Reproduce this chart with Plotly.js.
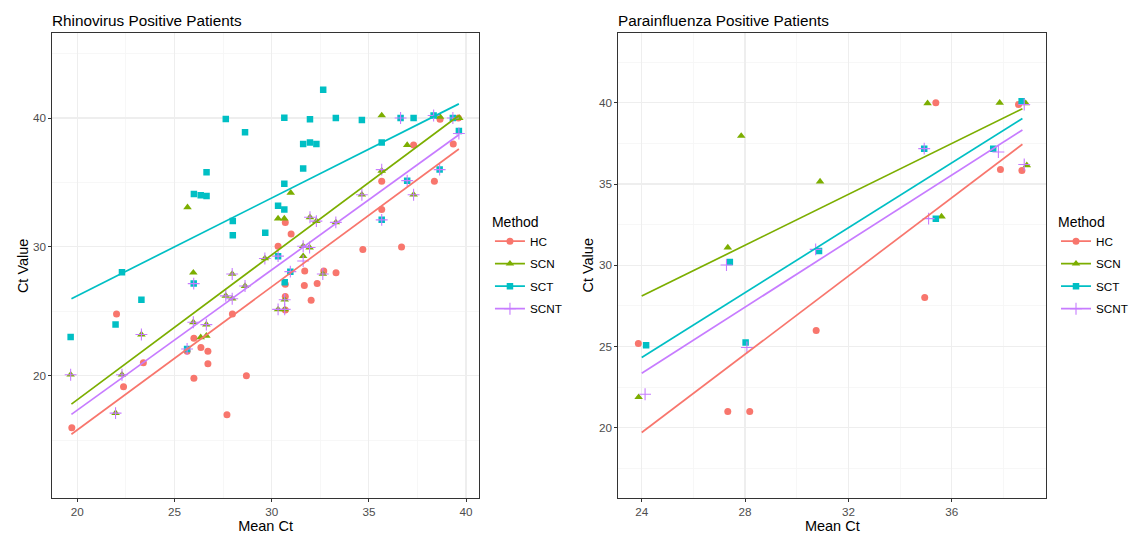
<!DOCTYPE html>
<html>
<head>
<meta charset="utf-8">
<script src="https://cdn.plot.ly/plotly-3.0.1.min.js"></script>
<style>html,body{margin:0;padding:0;background:#fff;}#chart{width:1133px;height:536px;}</style>
</head>
<body>
<div id="chart"></div>
<script>
// ---------- DATA ----------
const methods = ["HC", "SCN", "SCT", "SCNT"];
const panelTitles = ["Rhinovirus Positive Patients", "Parainfluenza Positive Patients"];
const xTitle = "Mean Ct";
const yTitle = "Ct Value";

// Rhinovirus panel
const rhinoHC_x = [19.72,22.02,22.38,23.4,25.65,26.0,26.36,26.72,26.72,26.0,27.7,27.98,28.7,30.33,30.7,31.0,31.7,32.68,33.31,30.7,31.68,32.34,30.7,32.03,30.7,34.69,36.68,35.66,35.66,37.3,38.37,38.66,39.34,39.6];
const rhinoHC_y = [15.97,24.8,19.14,21.0,21.9,22.9,22.2,21.9,20.94,19.8,16.98,24.8,20.0,30.05,31.9,31.0,28.13,28.13,28.0,27.1,27.0,27.15,26.15,25.85,25.1,29.8,30.0,35.1,32.9,37.9,35.1,39.9,37.98,40.0];

const rhinoSCN_x = [19.66,21.97,22.3,23.3,25.67,25.97,25.97,26.35,26.64,26.64,27.64,27.97,27.97,28.63,29.65,30.33,30.65,30.98,31.62,31.62,31.95,31.97,32.3,32.63,33.3,30.33,30.67,30.67,34.64,35.66,35.66,36.97,37.3,38.33,38.66,39.65];
const rhinoSCN_y = [20.08,17.1,20.08,23.2,33.07,28.0,24.15,22.98,23.1,23.97,26.2,25.98,27.9,26.96,29.1,32.2,32.2,34.2,29.28,30.05,29.95,32.3,32.0,27.9,31.9,25.15,25.15,25.9,34.05,40.2,35.9,37.9,34.05,40.2,40.1,40.0];

const rhinoSCT_x = [19.66,21.97,22.3,23.3,25.65,25.99,26.0,26.35,26.65,26.65,27.64,28.0,28.0,28.63,29.67,30.33,30.33,30.65,30.65,30.65,30.67,30.96,31.62,31.62,31.97,31.97,32.3,32.65,33.3,34.64,35.66,35.66,36.63,36.97,37.3,38.33,38.64,39.32,39.63];
const rhinoSCT_y = [23.0,23.97,28.03,25.9,22.08,27.15,34.1,34.0,33.95,35.8,39.93,32.0,30.9,38.9,31.1,33.2,29.28,34.9,32.9,40.03,27.25,28.08,37.98,36.08,38.1,39.9,37.98,42.2,40.0,39.85,38.1,32.1,40.0,35.14,40.0,40.2,36.0,40.0,39.0];

const rhinoSCNT_x = [19.66,21.97,22.3,23.3,25.65,25.99,25.97,26.64,27.64,27.97,27.97,28.63,29.65,30.33,30.67,30.33,30.67,30.96,31.62,31.62,31.95,31.97,32.3,32.63,33.3,34.64,35.66,35.66,36.63,36.97,37.3,38.33,38.64,39.32,39.63];
const rhinoSCNT_y = [20.08,17.1,20.08,23.2,22.08,27.15,24.15,23.97,26.2,25.98,27.9,26.96,29.1,29.28,25.9,25.15,25.15,28.08,30.05,28.9,29.95,32.3,32.0,27.9,31.9,34.05,36.0,32.1,40.0,35.14,34.05,40.2,36.0,40.0,38.8];

// Rhinovirus fitted (linear) lines: end values
const rhinoFit_x = [19.7, 39.63];
const rhinoFitHC = [15.46, 37.6];
const rhinoFitSCN = [17.8, 40.2];
const rhinoFitSCT = [25.98, 41.1];
const rhinoFitSCNT = [17.0, 38.7];

// Parainfluenza panel
const paraHC_x = [23.87,27.33,28.18,30.75,34.95,35.38,37.88,38.58,38.71];
const paraHC_y = [25.18,21.0,21.0,25.98,28.01,40.0,35.9,39.9,35.83];
const paraSCN_x = [23.88,27.33,27.85,30.9,35.06,35.6,37.85,38.86,38.9];
const paraSCN_y = [21.88,31.09,37.96,35.15,39.97,33.0,40.0,39.97,36.15];
const paraSCT_x = [24.17,27.41,28.02,30.86,34.93,35.38,37.6,38.7];
const paraSCT_y = [25.08,30.2,25.24,30.88,37.18,32.87,37.18,40.1];
const paraSCNT_x = [24.13,27.28,28.07,30.73,34.93,35.1,37.8,38.8,38.8];
const paraSCNT_y = [22.06,30.02,24.94,30.98,37.18,32.87,36.97,39.9,36.2];

const paraFit_x = [24.0, 38.73];
const paraFitHC = [19.7, 37.45];
const paraFitSCN = [28.1, 39.64];
const paraFitSCT = [24.32, 39.03];
const paraFitSCNT = [23.35, 38.33];

// ---------- STYLE ----------
const colors = {HC: "#F8766D", SCN: "#7CAE00", SCT: "#00BFC4", SCNT: "#C77CFF"};
const symbols = {HC: "circle", SCN: "triangle-up", SCT: "square", SCNT: "cross-thin-open"};
const sizes = {HC: 7, SCN: 7.5, SCT: 6.5, SCNT: 8.5};
const FONT = "Liberation Sans, Arial, sans-serif";

function markerFor(m) {
  if (m === "SCNT") return {symbol: symbols[m], size: sizes[m], color: colors[m], line: {color: colors[m], width: 1.1}};
  return {symbol: symbols[m], size: sizes[m], color: colors[m], line: {width: 0}};
}

const panels = [
  {xa: "x", ya: "y", legend: "legend",
   pts: {HC: [rhinoHC_x, rhinoHC_y], SCN: [rhinoSCN_x, rhinoSCN_y], SCT: [rhinoSCT_x, rhinoSCT_y], SCNT: [rhinoSCNT_x, rhinoSCNT_y]},
   fitX: rhinoFit_x, fit: {HC: rhinoFitHC, SCN: rhinoFitSCN, SCT: rhinoFitSCT, SCNT: rhinoFitSCNT}},
  {xa: "x2", ya: "y2", legend: "legend2",
   pts: {HC: [paraHC_x, paraHC_y], SCN: [paraSCN_x, paraSCN_y], SCT: [paraSCT_x, paraSCT_y], SCNT: [paraSCNT_x, paraSCNT_y]},
   fitX: paraFit_x, fit: {HC: paraFitHC, SCN: paraFitSCN, SCT: paraFitSCT, SCNT: paraFitSCNT}}
];

const traces = [];
panels.forEach((p, pi) => {
  methods.forEach(m => {
    traces.push({type: "scatter", mode: "markers", x: p.pts[m][0], y: p.pts[m][1],
      xaxis: p.xa, yaxis: p.ya, marker: markerFor(m), showlegend: false, hoverinfo: "x+y", name: m});
  });
  methods.forEach(m => {
    traces.push({type: "scatter", mode: "lines", x: p.fitX, y: p.fit[m],
      xaxis: p.xa, yaxis: p.ya, line: {color: colors[m], width: 1.7}, showlegend: false, hoverinfo: "skip", name: m});
  });
  // legend keys (line + marker), like the ggplot legend
  methods.forEach(m => {
    traces.push({type: "scatter", mode: "lines+markers", x: [null], y: [null],
      xaxis: p.xa, yaxis: p.ya, marker: markerFor(m), line: {color: colors[m], width: 1.7},
      name: m, legend: p.legend, legendgroup: "g" + pi + m, showlegend: true});
  });
});

const W = 1133, H = 536;
const GRID = "#EEEEEE", MINOR = "#F5F5F5";
function axisBase(extra) {
  return Object.assign({
    showline: true, mirror: true, linecolor: "#333333", linewidth: 1,
    ticks: "outside", ticklen: 3, tickwidth: 1, tickcolor: "#333333",
    showgrid: true, gridcolor: GRID, gridwidth: 1.2, zeroline: false,
    tickfont: {family: FONT, size: 11.7, color: "#4D4D4D"},
    automargin: false, fixedrange: true
  }, extra);
}
function minor(d) { return {dtick: d, showgrid: true, gridcolor: MINOR, gridwidth: 0.8, ticks: ""}; }
const titleFont = {family: FONT, size: 14.5, color: "#000000"};

const yDom = [1 - 497.5 / H, 1 - 33 / H];
const yMid = 1 - ((33 + 497.5) / 2) / H;
const legendCommon = {xanchor: "left", y: 1 - 208.5 / H, yanchor: "top", bgcolor: "rgba(0,0,0,0)",
    borderwidth: 0, tracegroupgap: 3.5, itemwidth: 30,
    title: {text: "Method", font: {family: FONT, size: 14, color: "#000000"}},
    font: {family: FONT, size: 11.7, color: "#000000"}};

const layout = {
  width: W, height: H,
  margin: {l: 0, r: 0, t: 0, b: 0},
  paper_bgcolor: "#FFFFFF", plot_bgcolor: "#FFFFFF",
  font: {family: FONT, color: "#000000"},
  xaxis: axisBase({domain: [52.7 / W, 481.7 / W], range: [18.72, 40.65], tick0: 0, dtick: 5, minor: minor(2.5),
    title: {text: xTitle, font: titleFont, standoff: 3}, anchor: "y"}),
  yaxis: axisBase({domain: yDom, range: [10.55, 46.6], tick0: 0, dtick: 10, minor: minor(5), anchor: "x"}),
  xaxis2: axisBase({domain: [622.3 / W, 1052.7 / W], range: [23.1, 39.65], tick0: 0, dtick: 4, minor: minor(2),
    title: {text: xTitle, font: titleFont, standoff: 3}, anchor: "y2"}),
  yaxis2: axisBase({domain: yDom, range: [15.7, 44.3], tick0: 0, dtick: 5, minor: minor(2.5), anchor: "x2"}),
  legend: Object.assign({x: 493 / W}, legendCommon),
  legend2: Object.assign({x: 1063 / W}, legendCommon),
  annotations: [
    {text: panelTitles[0], xref: "paper", yref: "paper", x: 50.7 / W, y: 1 - 20 / H, xanchor: "left", yanchor: "middle",
     showarrow: false, font: {family: FONT, size: 15.3, color: "#000000"}},
    {text: panelTitles[1], xref: "paper", yref: "paper", x: 620.3 / W, y: 1 - 20 / H, xanchor: "left", yanchor: "middle",
     showarrow: false, font: {family: FONT, size: 15.3, color: "#000000"}},
    {text: yTitle, xref: "paper", yref: "paper", x: 23 / W, y: yMid, xanchor: "center", yanchor: "middle",
     textangle: -90, showarrow: false, font: titleFont},
    {text: yTitle, xref: "paper", yref: "paper", x: 592 / W, y: yMid, xanchor: "center", yanchor: "middle",
     textangle: -90, showarrow: false, font: titleFont}
  ],
  showlegend: true
};

Plotly.newPlot("chart", traces, layout, {displayModeBar: false, staticPlot: true});
</script>
</body>
</html>
